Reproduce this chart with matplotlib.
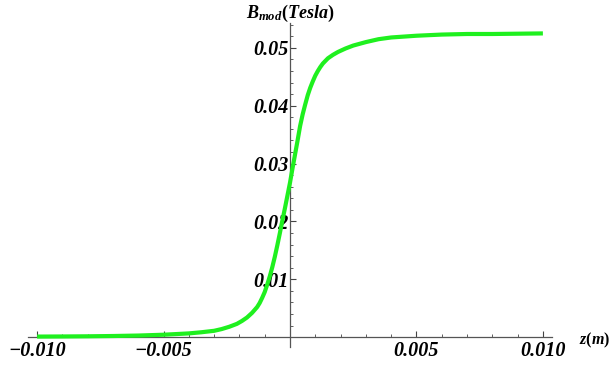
import matplotlib
matplotlib.use("Agg")
import matplotlib.pyplot as plt
from matplotlib.ticker import MultipleLocator, FixedLocator

plt.rcParams['mathtext.fontset'] = 'custom'
plt.rcParams['mathtext.it'] = 'Liberation Serif:italic:bold'
plt.rcParams['mathtext.rm'] = 'Liberation Serif:bold'
plt.rcParams['mathtext.bf'] = 'Liberation Serif:bold'

z_m = [-0.0100, -0.0090, -0.0080, -0.0070, -0.0060, -0.0050, -0.0040, -0.0035,
       -0.0030, -0.0027, -0.0024, -0.0021, -0.0019, -0.0017, -0.0015, -0.0013,
       -0.0012, -0.0011, -0.0010, -0.0009, -0.0008, -0.0007, -0.0006, -0.0005,
       -0.0004, -0.0003, -0.0002, -0.0001, 0.0000,
       0.0001, 0.0002, 0.0003, 0.0004, 0.0005, 0.0006, 0.0007, 0.0008, 0.0009,
       0.0010, 0.0011, 0.0012, 0.0013, 0.0015, 0.0017, 0.0019, 0.0022, 0.0025,
       0.0030, 0.0035, 0.0040, 0.0050, 0.0060, 0.0070, 0.0080, 0.0100]
b_tesla = [0.00010, 0.00012, 0.00015, 0.00020, 0.00028, 0.00042, 0.00065, 0.00085,
           0.00110, 0.00140, 0.00180, 0.00230, 0.00280, 0.00340, 0.00420, 0.00520,
           0.00590, 0.00680, 0.00780, 0.00910, 0.01050, 0.01210, 0.01390, 0.01590,
           0.01800, 0.02020, 0.02230, 0.02450, 0.02670,
           0.02920, 0.03160, 0.03400, 0.03650, 0.03850, 0.04020, 0.04180, 0.04310,
           0.04420, 0.04520, 0.04600, 0.04670, 0.04730, 0.04820, 0.04880, 0.04930,
           0.04990, 0.05040, 0.05100, 0.05150, 0.05180, 0.05210, 0.05230, 0.05240,
           0.05240, 0.05250]

x_ticks = [-0.010, -0.005, 0.005, 0.010]
x_tick_labels = ["\u22120.010", "\u22120.005", "0.005", "0.010"]
y_ticks = [0.01, 0.02, 0.03, 0.04, 0.05]
y_tick_labels = ["0.01", "0.02", "0.03", "0.04", "0.05"]

W, H = 611, 365
fig = plt.figure(figsize=(W / 100, H / 100), dpi=100)
ax = fig.add_axes([28 / W, 1 - 347 / H, 524 / W, (347 - 23) / H])

ax.plot(z_m, b_tesla, color='#1ff01f', lw=3.0, solid_joinstyle='round',
        solid_capstyle='butt', zorder=3)

ax.set_xlim(-0.01036, 0.01036)
ax.set_ylim(-0.0017, 0.0543)

for s in ['top', 'right']:
    ax.spines[s].set_visible(False)
ax.spines['left'].set_position(('data', 0))
ax.spines['bottom'].set_position(('data', 0))
for s in ['left', 'bottom']:
    ax.spines[s].set_color('#555555')
    ax.spines[s].set_linewidth(0.9)

ax.xaxis.set_major_locator(FixedLocator(x_ticks))
ax.set_xticklabels(x_tick_labels)
ax.xaxis.set_minor_locator(MultipleLocator(0.001))
ax.yaxis.set_major_locator(FixedLocator(y_ticks))
ax.set_yticklabels(y_tick_labels)
ax.yaxis.set_minor_locator(MultipleLocator(0.002))

ax.tick_params(which='major', direction='in', length=4, width=0.8, color='#444444')
ax.tick_params(which='minor', direction='in', length=2.5, width=0.6, color='#444444')
ax.tick_params(axis='x', which='major', pad=3)
ax.tick_params(axis='y', which='major', pad=1)

for lab in ax.get_xticklabels() + ax.get_yticklabels():
    lab.set_family('Liberation Serif')
    lab.set_style('italic')
    lab.set_weight('bold')
    lab.set_fontsize(14.5)

fig.text(290 / W, 1 - 13 / H, r'$B_{mod}\mathrm{(}Tesla\mathrm{)}$', ha='center',
         va='center', fontsize=13)
fig.text(579 / W, 1 - 340 / H, r'$z\mathrm{(}m\mathrm{)}$', ha='left',
         va='center', fontsize=11.5)

fig.savefig('out.png', dpi=100)
